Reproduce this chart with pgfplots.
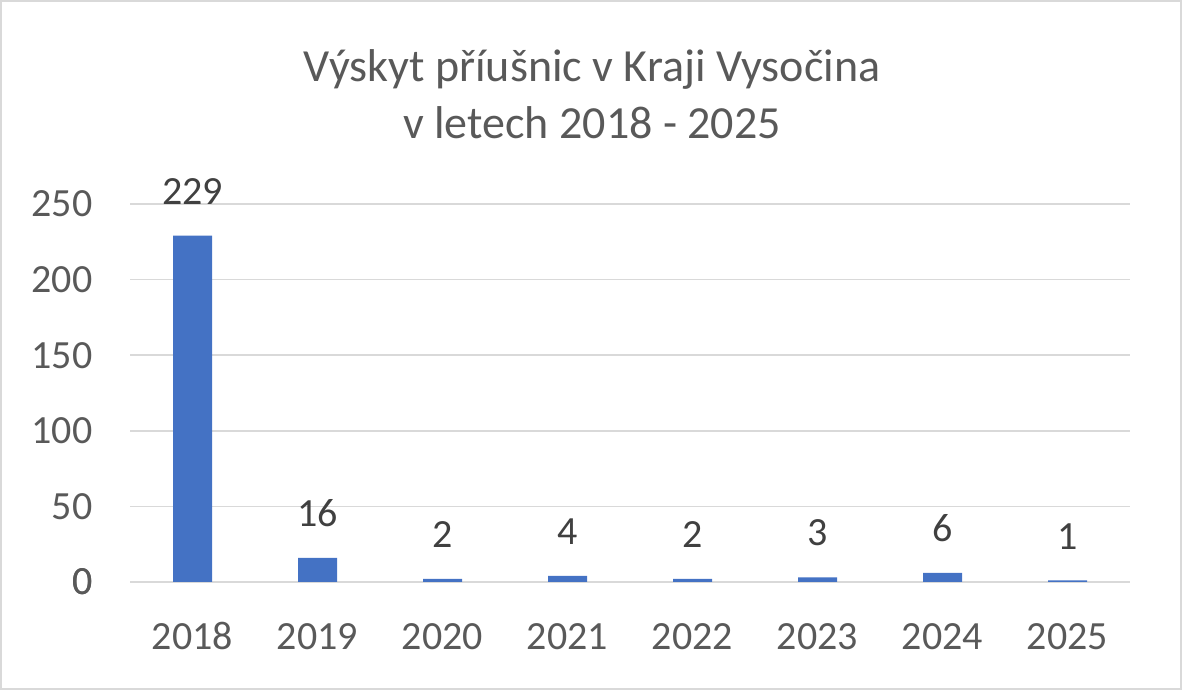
\documentclass[border=0pt]{standalone}
\usepackage{pgfplots}
\pgfplotsset{compat=1.18}
\usepackage{fontspec}
\setmainfont{Carlito}
\definecolor{barblue}{HTML}{4472C4}
\definecolor{txtgray}{HTML}{595959}
\definecolor{valgray}{HTML}{404040}
\definecolor{gridgray}{HTML}{D9D9D9}
\begin{document}
\begin{tikzpicture}
  \path[use as bounding box] (0pt,0pt) rectangle (1182pt,690pt);
  \draw[gridgray, line width=2pt] (1pt,1pt) rectangle (1181pt,689pt);
  \begin{axis}[
    at={(130pt,108pt)}, anchor=south west,
    scale only axis, width=1000pt, height=378pt,
    ybar, bar width=39pt, bar shift=0pt,
    xmin=-0.5, xmax=7.5, ymin=0, ymax=250,
    xtick=data,
    xticklabels={2018,2019,2020,2021,2022,2023,2024,2025},
    ytick={0,50,100,150,200,250},
    axis line style={draw=none},
    axis x line*=bottom,
    tick style={draw=none},
    ymajorgrids, grid style={gridgray, line width=1.5pt},
    extra y ticks={0}, extra y tick style={grid style={gridgray, line width=2pt}},
    font=\fontsize{40}{48}\selectfont,
    ticklabel style={text=txtgray},
    /pgf/number format/assume math mode=true,
    yticklabel style={xshift=-34pt},
    xticklabel style={anchor=north, text height=28pt, text depth=0pt, yshift=-32pt},
    nodes near coords,
    nodes near coords style={text=valgray, anchor=south, inner sep=0pt, yshift=31pt},
    title={Výskyt příušnic v Kraji Vysočina\\v letech 2018 - 2025},
    title style={align=center, text=txtgray, font=\fontsize{46}{57}\selectfont, yshift=56pt, xshift=-38pt},
  ]
    \addplot[fill=barblue, draw=none] coordinates {
      (0,229) (1,16) (2,2) (3,4) (4,2) (5,3) (6,6) (7,1)
    };
  \end{axis}
\end{tikzpicture}
\end{document}
